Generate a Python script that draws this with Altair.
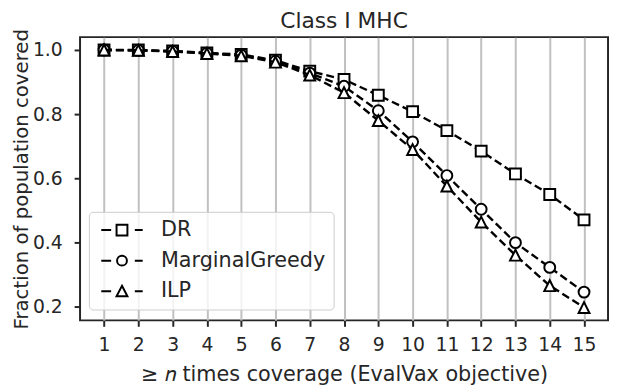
import altair as alt
import pandas as pd

# ---- data ----
n_values = list(range(1, 16))
series_names = ["DR", "MarginalGreedy", "ILP"]
dr_values = [1.000, 1.000, 0.997, 0.991, 0.986, 0.968, 0.934, 0.908, 0.859,
             0.808, 0.749, 0.685, 0.614, 0.550, 0.471]
mg_values = [1.000, 0.999, 0.996, 0.990, 0.984, 0.965, 0.928, 0.887, 0.811,
             0.714, 0.609, 0.504, 0.400, 0.323, 0.246]
ilp_values = [1.000, 0.999, 0.995, 0.989, 0.982, 0.962, 0.922, 0.867, 0.780,
              0.690, 0.576, 0.464, 0.361, 0.266, 0.198]
y_ticks = [0.2, 0.4, 0.6, 0.8, 1.0]

rows = []
for name, vals in zip(series_names, [dr_values, mg_values, ilp_values]):
    for n, v in zip(n_values, vals):
        rows.append({"series": name, "n": n, "frac": v})
df = pd.DataFrame(rows)

FONT = "DejaVu Sans"
INK = "#262626"

x_enc = alt.X(
    "n:Q",
    scale=alt.Scale(domain=[0.3, 15.7], nice=False, zero=False),
    axis=alt.Axis(values=n_values, format="d", grid=True, labelPadding=10,
                  title="≥ 𝑛 times coverage (EvalVax objective)", titlePadding=9,
                  titleFontSize=21),
)
y_enc = alt.Y(
    "frac:Q",
    scale=alt.Scale(domain=[0.158, 1.04], nice=False, zero=False),
    axis=alt.Axis(values=y_ticks, format=".1f", grid=False, labelPadding=12,
                  title="Fraction of population covered", titlePadding=1,
                  titleFontSize=20),
)

SQUARE = "M-1,-1H1V1H-1Z"
TRIANGLE = "M0,-1L1,1L-1,1Z"
marker_shapes = {"DR": SQUARE, "MarginalGreedy": "circle", "ILP": TRIANGLE}

legend_paths = [
    "M-4.2,0H-2.2M-1.1,-1.1H1.1V1.1H-1.1ZM2.6,0H4.2",
    "M-4.2,0H-2.2M-1,0A1,1,0,1,0,1,0A1,1,0,1,0,-1,0ZM2.6,0H4.2",
    "M-4.2,0H-2.2M0,-1.1L1.1,1L-1.1,1ZM2.6,0H4.2",
]

base = alt.Chart(df)
layers = []
for name in series_names:
    sub = base.transform_filter(alt.datum.series == name)
    layers.append(
        sub.mark_line(color="black", strokeWidth=2.4, strokeDash=[8, 4]).encode(x=x_enc, y=y_enc)
    )
    layers.append(
        sub.mark_point(shape=marker_shapes[name], size=121, filled=True, fill="white",
                       stroke="black", strokeWidth=2, opacity=1).encode(x=x_enc, y=y_enc)
    )

# invisible layer that only carries the legend (line + marker symbols)
legend_layer = base.mark_point(
    filled=False, stroke="black", strokeWidth=2, opacity=0
).encode(
    x=x_enc,
    y=y_enc,
    shape=alt.Shape(
        "series:N",
        scale=alt.Scale(domain=series_names, range=legend_paths),
        legend=alt.Legend(
            title=None, orient="none", legendX=9, legendY=177,
            symbolSize=100, symbolStrokeWidth=2, symbolOffset=15, labelOffset=29,
            symbolFillColor="white", symbolStrokeColor="black", symbolOpacity=1,
            labelFont=FONT, labelFontSize=21, labelColor=INK, labelLimit=400,
            fillColor="rgba(255,255,255,0.8)", strokeColor="#cccccc",
            cornerRadius=4, padding=8, rowPadding=9,
        ),
    ),
)

chart = alt.layer(*layers, legend_layer).properties(
    width=535,
    height=287,
    title=alt.TitleParams("Class I MHC", font=FONT, fontSize=22, fontWeight="normal",
                          color=INK, offset=-5, anchor="middle", frame="group"),
    padding={"left": 73, "top": 27, "right": 2, "bottom": 66},
    autosize=alt.AutoSizeParams(type="none"),
).configure_view(
    stroke=INK, strokeWidth=2
).configure_axis(
    domain=False, tickColor=INK, tickWidth=2, tickSize=6,
    labelFont=FONT, labelFontSize=19, labelColor=INK,
    titleFont=FONT, titleFontSize=19, titleFontWeight="normal", titleColor=INK,
    gridColor="#c0c0c0", gridWidth=2,
)

chart.save("out.html", embed_options={"renderer": "svg", "actions": False})
